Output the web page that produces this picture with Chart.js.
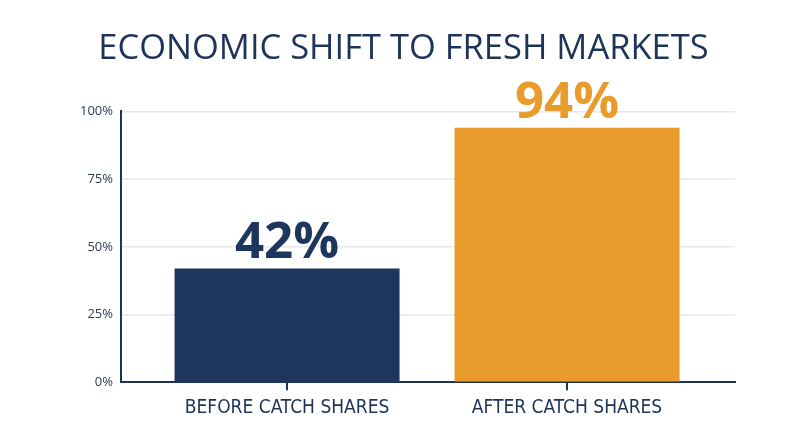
<!DOCTYPE html>
<html lang="en">
<head>
    <meta charset="UTF-8">
    <title>Economic Shift to Fresh Markets</title>
    <script src="https://cdn.jsdelivr.net/npm/chart.js"></script>
    <style>
        html, body { margin: 0; padding: 0; background: #fff; }
        #wrap { width: 800px; height: 447px; }
    </style>
</head>
<body>
    <div id="wrap"><canvas id="myChart"></canvas></div>

    <script>
        const categories = ['BEFORE CATCH SHARES', 'AFTER CATCH SHARES'];
        const shares = [42, 94];
        const barColors = ['#1e355e', '#e99b2b'];
        const yTicks = [0, 25, 50, 75, 100];

        const navy = '#1d3358';

        // big value labels above each bar
        const valueLabels = {
            id: 'valueLabels',
            afterDatasetsDraw(chart) {
                const ctx = chart.ctx;
                const meta = chart.getDatasetMeta(0);
                ctx.save();
                ctx.font = 'bold 51px "Open Sans", sans-serif';
                ctx.textAlign = 'center';
                ctx.textBaseline = 'bottom';
                meta.data.forEach((bar, i) => {
                    ctx.fillStyle = barColors[i];
                    ctx.fillText(shares[i] + '%', bar.x, bar.y + 1);
                });
                ctx.restore();
            }
        };

        const ctx = document.getElementById('myChart').getContext('2d');
        const myChart = new Chart(ctx, {
            type: 'bar',
            data: {
                labels: categories,
                datasets: [{
                    data: shares,
                    backgroundColor: barColors,
                    barPercentage: 0.893,
                    categoryPercentage: 0.9
                }]
            },
            options: {
                responsive: true,
                maintainAspectRatio: false,
                animation: false,
                layout: { padding: { left: 72, right: 65, bottom: 22, top: 0 } },
                plugins: {
                    legend: { display: false },
                    tooltip: { enabled: false },
                    title: {
                        display: true,
                        text: 'ECONOMIC SHIFT TO FRESH MARKETS',
                        color: navy,
                        font: { family: '"Open Sans", sans-serif', size: 34.5, weight: 'normal', lineHeight: 1.2 },
                        padding: { top: 28, bottom: 42 }
                    }
                },
                scales: {
                    y: {
                        min: 0,
                        max: 100,
                        afterBuildTicks: axis => { axis.ticks = yTicks.map(v => ({ value: v })); },
                        ticks: {
                            color: '#2b3a55',
                            font: { family: '"Open Sans", sans-serif', size: 13 },
                            padding: 8,
                            callback: v => v + '%'
                        },
                        grid: { color: '#e8e8e8', lineWidth: 1.5, drawTicks: false },
                        border: { color: navy, width: 2 }
                    },
                    x: {
                        offset: false,
                        // the bars sit a bit off the even split in the original
                        afterBuildTicks: axis => {
                            axis._startValue = -0.593;
                            axis._valueRange = 2.193;
                        },
                        ticks: {
                            color: navy,
                            font: { family: '"Liberation Sans Narrow", "DejaVu Sans Condensed", sans-serif', size: 19 },
                            padding: 6
                        },
                        grid: { offset: false, drawOnChartArea: false, tickLength: 8, color: navy, lineWidth: 2 },
                        border: { color: navy, width: 2 }
                    }
                }
            },
            plugins: [valueLabels]
        });
    </script>
</body>
</html>
